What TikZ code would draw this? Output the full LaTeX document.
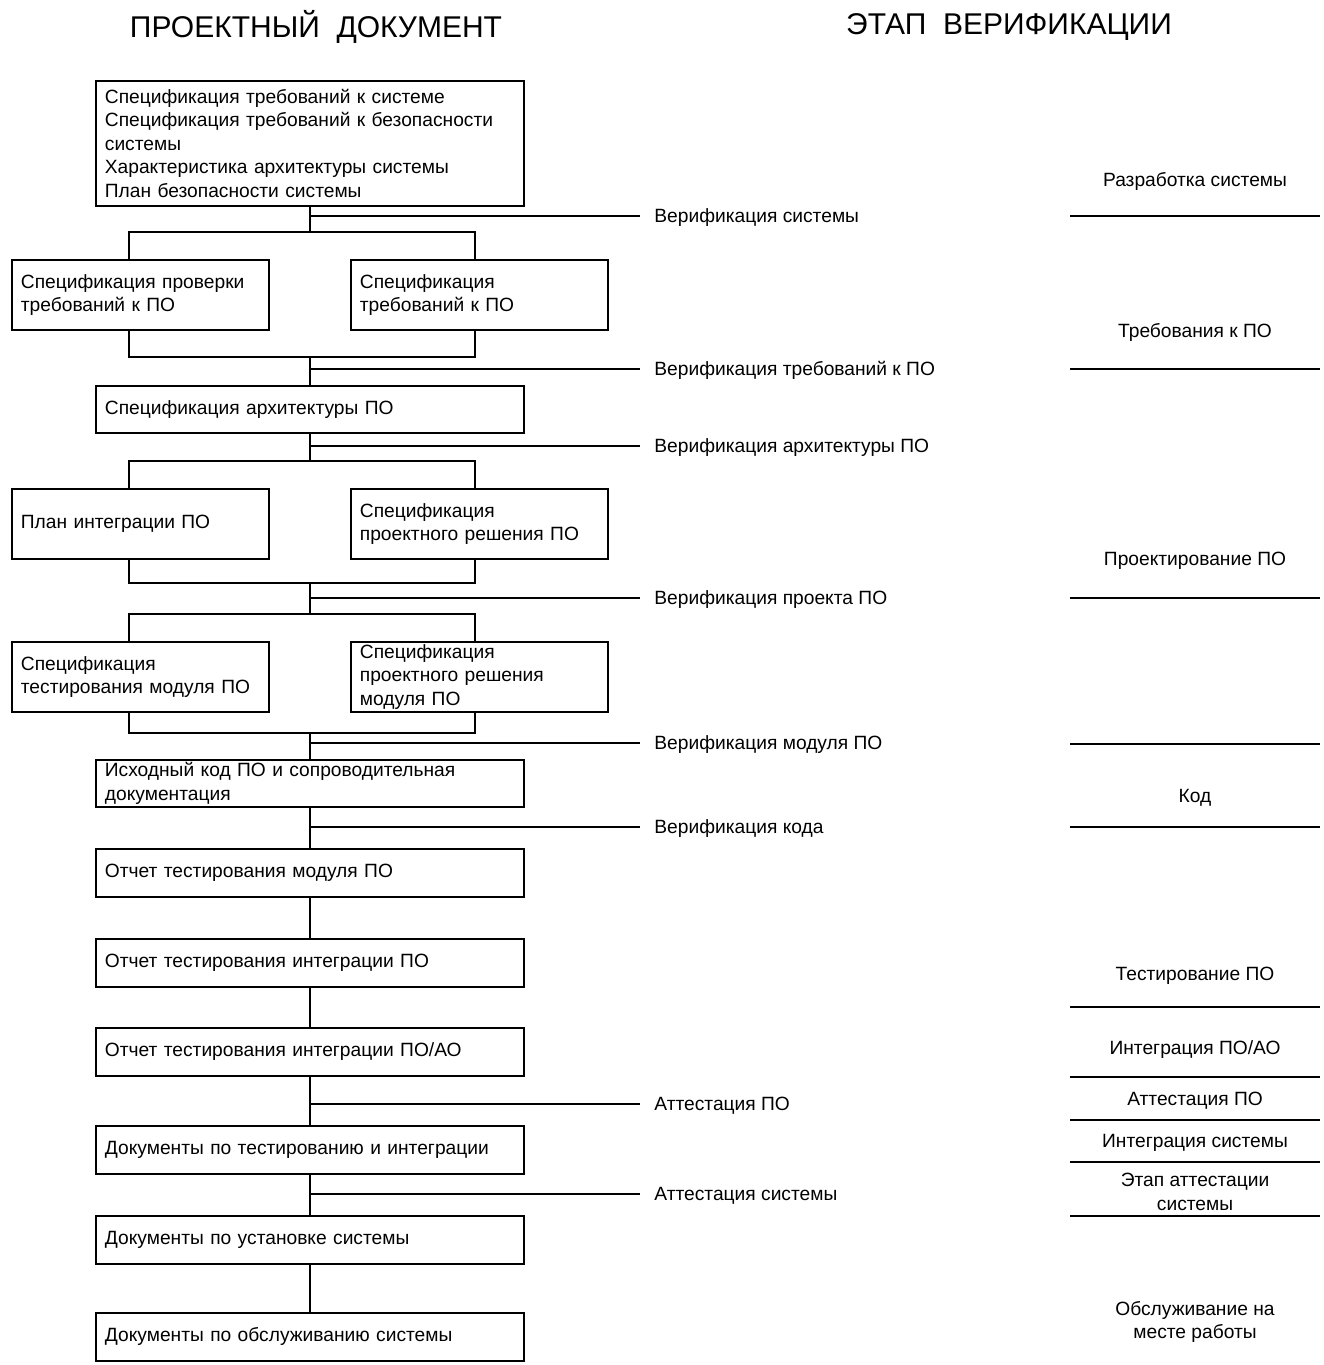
\documentclass[tikz,border=0pt]{standalone}
\usepackage{fontspec}
\setmainfont{Liberation Sans}
\tikzset{
    docbox/.style={draw,line width=0.9pt,anchor=north west,align=left,inner xsep=4.5pt,inner ysep=0.5pt,
        font=\fontsize{9.6}{11.75}\selectfont},
    wide/.style={docbox,text width=205pt,minimum height=24pt},
    half/.style={docbox,text width=119.5pt,minimum height=35pt},
    verif/.style={anchor=west,inner xsep=7pt,text height=6.9pt,text depth=0pt,font=\fontsize{9.6}{11.75}\selectfont},
    stage/.style={align=center,font=\fontsize{9.6}{11.75}\selectfont},
    head/.style={font=\fontsize{15}{18}\selectfont},
    link/.style={line width=0.8pt}
}
\begin{document}
\begin{tikzpicture}[x=0.5pt,y=-0.5pt]
            \useasboundingbox (0,0) rectangle (1323,1365);
            \node [head] (hdoc) at (316,27) {ПРОЕКТНЫЙ\ \ ДОКУМЕНТ};
            \node [head] (hstage) at (1009,27) {ЭТАП\ \ ВЕРИФИКАЦИИ};
            % documents
            \node [wide,minimum height=62.5pt] (sysreq) at (95,80) {Спецификация требований к системе\\
                Спецификация требований к безопасности\\системы\\
                Характеристика архитектуры системы\\
                План безопасности системы};
            \node [half] (reqtest) at (11,259) {Спецификация проверки\\требований к ПО};
            \node [half] (swreq) at (350,259) {Спецификация\\требований к ПО};
            \node [wide,minimum height=23.5pt] (swarch) at (95,385) {Спецификация архитектуры ПО};
            \node [half] (intplan) at (11,488) {План интеграции ПО};
            \node [half] (swdes) at (350,488) {Спецификация\\проектного решения ПО};
            \node [half] (modtest) at (11,641) {Спецификация\\тестирования модуля ПО};
            \node [half] (moddes) at (350,641) {Спецификация\\проектного решения\\модуля ПО};
            \node [wide,minimum height=23.5pt] (src) at (95,759) {Исходный код ПО и сопроводительная\\документация};
            \node [wide] (modrep) at (95,848) {Отчет тестирования модуля ПО};
            \node [wide] (intrep) at (95,938) {Отчет тестирования интеграции ПО};
            \node [wide] (hwrep) at (95,1027) {Отчет тестирования интеграции ПО/АО};
            \node [wide] (tidoc) at (95,1125) {Документы по тестированию и интеграции};
            \node [wide] (instdoc) at (95,1215) {Документы по установке системы};
            \node [wide] (maintdoc) at (95,1312) {Документы по обслуживанию системы};
            % verification steps
            \node [verif] (vsys) at (640,216) {Верификация системы};
            \node [verif] (vreq) at (640,369) {Верификация требований к ПО};
            \node [verif] (varch) at (640,446) {Верификация архитектуры ПО};
            \node [verif] (vdes) at (640,598) {Верификация проекта ПО};
            \node [verif] (vmod) at (640,743) {Верификация модуля ПО};
            \node [verif] (vcode) at (640,827) {Верификация кода};
            \node [verif] (attsw) at (640,1104) {Аттестация ПО};
            \node [verif] (attsys) at (640,1194) {Аттестация системы};
            % stages
            \node [stage] (stsys) at (1195,181) {Разработка системы};
            \node [stage] (streq) at (1195,332) {Требования к ПО};
            \node [stage] (stdes) at (1195,561) {Проектирование ПО};
            \node [stage] (stcode) at (1195,798) {Код};
            \node [stage] (sttest) at (1195,976) {Тестирование ПО};
            \node [stage] (sthw) at (1195,1050) {Интеграция ПО/АО};
            \node [stage] (statt) at (1195,1101) {Аттестация ПО};
            \node [stage] (stint) at (1195,1143) {Интеграция системы};
            \node [stage] (stval) at (1195,1192) {Этап аттестации\\системы};
            \node [stage] (stmaint) at (1195,1322) {Обслуживание на\\месте работы};
            \foreach \yy in {216,369,598,744,827,1007,1077,1120,1162,1216} {
                \draw [link] (1070,\yy) -- (1320,\yy);
            }
            % spine and brackets
            \coordinate (spine) at (sysreq.south);
            \coordinate (lft) at (129,0);
            \coordinate (rgt) at (475,0);
            \foreach \name/\yy in {r1/232,r2/357,r3/461,r4/583,r5/614,r6/733} {
                \coordinate (\name) at (spine |- 0,\yy);
            }
            \foreach \up/\dn/\l/\r in {r1/r2/reqtest/swreq,r3/r4/intplan/swdes,r5/r6/modtest/moddes} {
                \draw [link] (lft |- \l.north) -- (lft |- \up) -- (rgt |- \up) -- (rgt |- \r.north);
                \draw [link] (lft |- \l.south) -- (lft |- \dn) -- (rgt |- \dn) -- (rgt |- \r.south);
            }
            \draw [link] (sysreq.south) -- (r1);
            \draw [link] (r2) -- (swarch.north);
            \draw [link] (swarch.south) -- (r3);
            \draw [link] (r4) -- (r5);
            \draw [link] (r6) -- (src.north);
            \foreach \a/\b in {src/modrep,modrep/intrep,intrep/hwrep,hwrep/tidoc,tidoc/instdoc,instdoc/maintdoc} {
                \draw [link] (\a.south) -- (\b.north);
            }
            \foreach \v in {vsys,vreq,varch,vdes,vmod,vcode,attsw,attsys} {
                \draw [link] (spine |- \v) -- (\v.west);
            }
\end{tikzpicture}
\end{document}
